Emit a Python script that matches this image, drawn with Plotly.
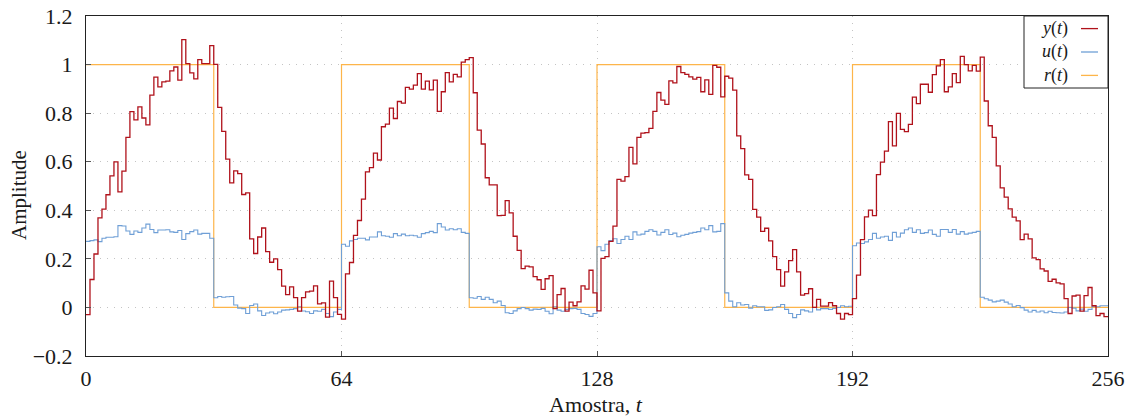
import plotly.graph_objects as go

# ---- data ----
y_vals = [
    -0.03, 0.115, 0.22, 0.369, 0.405, 0.464, 0.542, 0.599, 0.476, 0.561,
    0.70, 0.806, 0.772, 0.826, 0.78, 0.752, 0.874, 0.948, 0.908, 0.929,
    0.932, 0.974, 0.99, 0.936, 1.103, 1.004, 0.966, 0.941, 1.02, 1.004,
    1.004, 1.078,
    1.001, 0.824, 0.725, 0.611, 0.513, 0.562, 0.551, 0.465, 0.472, 0.282,
    0.222, 0.29, 0.327, 0.23, 0.186, 0.2, 0.156, 0.088, 0.053, 0.085,
    0.04, -0.015, 0.04, 0.064, 0.067, 0.089, 0.015, 0.019, -0.04, 0.108,
    0.04, -0.029,
    -0.048, 0.138, 0.185, 0.297, 0.358, 0.446, 0.558, 0.576, 0.635, 0.607,
    0.744, 0.755, 0.821, 0.778, 0.848, 0.841, 0.906, 0.899, 0.915, 0.963,
    0.899, 0.932, 0.896, 0.936, 0.807, 0.888, 0.967, 0.929, 0.96, 0.949,
    1.01, 1.02,
    1.029, 0.884, 0.73, 0.673, 0.534, 0.505, 0.505, 0.378, 0.379, 0.44,
    0.389, 0.293, 0.235, 0.16, 0.17, 0.167, 0.127, 0.114, 0.074, 0.118,
    0.131, -0.005, 0.053, 0.078, -0.015, 0.022, 0.007, 0.023, 0.089, 0.075,
    0.153, 0.06,
    -0.014, 0.202, 0.209, 0.272, 0.335, 0.527, 0.52, 0.539, 0.659, 0.591,
    0.70, 0.718, 0.72, 0.737, 0.807, 0.885, 0.854, 0.836, 0.933, 0.925,
    0.992, 0.967, 0.96, 0.949, 0.94, 0.947, 0.888, 0.937, 0.877, 0.997,
    0.989, 0.867,
    0.952, 0.944, 0.895, 0.706, 0.654, 0.546, 0.527, 0.404, 0.372, 0.313,
    0.326, 0.274, 0.209, 0.156, 0.088, 0.146, 0.193, 0.238, 0.146, 0.051,
    0.057, 0.077, 0.0, 0.033, 0.005, 0.005, 0.02, 0.007, -0.025, -0.048,
    -0.025, -0.03,
    0.036, 0.133, 0.279, 0.373, 0.401, 0.378, 0.547, 0.598, 0.644, 0.765,
    0.665, 0.799, 0.733, 0.724, 0.754, 0.866, 0.839, 0.919, 0.919, 0.886,
    0.959, 0.995, 1.02, 0.888, 0.908, 0.963, 0.926, 1.034, 1.0, 0.974,
    0.997, 0.973,
    1.031, 0.85, 0.748, 0.70, 0.583, 0.492, 0.454, 0.406, 0.372, 0.356,
    0.279, 0.302, 0.282, 0.204, 0.197, 0.159, 0.15, 0.107, 0.116, 0.101,
    0.097, 0.036, -0.025, 0.047, 0.051, -0.015, 0.049, 0.082, 0.007, -0.034,
    -0.025, -0.038,
]

u_vals = [
    0.272, 0.275, 0.278, 0.271, 0.285, 0.289, 0.289, 0.291, 0.337, 0.335,
    0.315, 0.301, 0.315, 0.309, 0.327, 0.343, 0.321, 0.308, 0.319, 0.319,
    0.32, 0.311, 0.309, 0.317, 0.28, 0.304, 0.312, 0.319, 0.302, 0.305,
    0.305, 0.285,
    0.04, 0.045, 0.042, 0.044, 0.045, 0.01, -0.003, -0.005, -0.025, 0.008,
    0.014, -0.014, -0.033, -0.023, -0.019, -0.026, -0.019, -0.011, -0.01, -0.008,
    -0.005, 0.003, -0.015, -0.018, -0.025, -0.014, -0.016, -0.008, -0.025, -0.038,
    -0.019, -0.008,
    0.26, 0.252, 0.274, 0.28, 0.285, 0.285, 0.278, 0.29, 0.29, 0.311,
    0.295, 0.293, 0.289, 0.304, 0.295, 0.302, 0.295, 0.297, 0.295, 0.289,
    0.304, 0.308, 0.313, 0.308, 0.345, 0.331, 0.319, 0.324, 0.32, 0.324,
    0.309, 0.305,
    0.04, 0.038, 0.045, 0.033, 0.042, 0.033, 0.019, 0.026, 0.008, -0.022,
    -0.025, -0.014, -0.005, 0.0, -0.005, -0.011, -0.007, -0.008, -0.004, -0.016,
    -0.026, 0.003, -0.011, -0.016, -0.008, -0.005, -0.004, -0.008, -0.025, -0.029,
    -0.037, -0.025,
    0.25, 0.234, 0.26, 0.275, 0.283, 0.263, 0.28, 0.293, 0.28, 0.311,
    0.298, 0.302, 0.313, 0.32, 0.313, 0.298, 0.309, 0.32, 0.30, 0.306,
    0.291, 0.297, 0.301, 0.306, 0.309, 0.312, 0.327, 0.32, 0.337, 0.311,
    0.313, 0.345,
    0.06, 0.026, 0.003, 0.019, 0.01, 0.012, -0.003, 0.007, 0.003, 0.003,
    -0.012, -0.01, 0.0, 0.003, 0.012, -0.008, -0.025, -0.042, -0.029, -0.01,
    -0.014, -0.019, 0.0, -0.01, -0.005, -0.005, -0.008, -0.004, 0.0, 0.007,
    0.003, 0.005,
    0.254, 0.265, 0.263, 0.27, 0.28, 0.305, 0.285, 0.29, 0.293, 0.276,
    0.309, 0.29, 0.306, 0.32, 0.327, 0.309, 0.32, 0.305, 0.308, 0.319,
    0.301, 0.293, 0.321, 0.321, 0.309, 0.321, 0.302, 0.312, 0.302, 0.306,
    0.309, 0.313,
    0.042, 0.036, 0.03, 0.023, 0.026, 0.03, 0.022, 0.014, 0.003, 0.008,
    -0.001, -0.011, -0.019, -0.012, -0.019, -0.015, -0.022, -0.016, -0.021, -0.022,
    -0.023, -0.019, 0.0, -0.003, -0.014, -0.007, -0.016, -0.008, 0.005, 0.003,
    0.007, 0.007,
]

# reference: breakpoints of the square wave
r_t = [0, 32, 64, 96, 128, 160, 192, 224, 256]
r_vals = [1, 0, 1, 0, 1, 0, 1, 0, 0]

x_ticks = [0, 64, 128, 192, 256]
y_ticks = [-0.2, 0, 0.2, 0.4, 0.6, 0.8, 1.0, 1.2]
y_tick_text = ["\u22120.2", "0", "0.2", "0.4", "0.6", "0.8", "1", "1.2"]

RED = "#b0121b"
BLUE = "#6f9fd6"
ORANGE = "#fdb54a"
FONT = "Liberation Serif"
TXT = "#1a1a1a"

t = list(range(len(y_vals))) + [len(y_vals)]
y_plot = y_vals + [y_vals[-1]]
u_plot = u_vals + [u_vals[-1]]

fig = go.Figure()
fig.add_trace(go.Scatter(x=r_t, y=r_vals, mode="lines", line=dict(color=ORANGE, width=1.2, shape="hv"),
                         name="r(t)", showlegend=False))
fig.add_trace(go.Scatter(x=t, y=u_plot, mode="lines", line=dict(color=BLUE, width=1.1, shape="hv"),
                         name="u(t)", showlegend=False))
fig.add_trace(go.Scatter(x=t, y=y_plot, mode="lines", line=dict(color=RED, width=1.3, shape="hv"),
                         name="y(t)", showlegend=False))

# plot area in pixels: x 86..1108, y 16..356
L, R, T, B = 86, 1108, 16, 356
W, H = R - L, B - T
def px(x):
    return (x - L) / W
def py(y):
    return (B - y) / H

# custom legend (text left, line sample right), one multi-line text block
LEG_SIZE = 18
LEG_MID = 52
line_h = 1.3 * LEG_SIZE
fig.add_shape(type="rect", xref="paper", yref="paper", x0=px(1024), x1=px(1108), y0=py(88), y1=py(16),
              line=dict(color="#222", width=1), fillcolor="white", layer="above")
fig.add_annotation(text="<i>y</i>(<i>t</i>)<br><i>u</i>(<i>t</i>)<br><i>r</i>(<i>t</i>)",
                   xref="paper", yref="paper", x=px(1070), y=py(LEG_MID), xanchor="right",
                   yanchor="middle", align="right", showarrow=False,
                   font=dict(family=FONT, size=LEG_SIZE, color=TXT))
for k, col in enumerate([RED, BLUE, ORANGE]):
    yy = LEG_MID + (k - 1) * line_h
    fig.add_shape(type="line", xref="paper", yref="paper", x0=px(1081), x1=px(1098), y0=py(yy), y1=py(yy),
                  line=dict(color=col, width=1.3), layer="above")

# axis titles
fig.add_annotation(text="Amostra, <i>t</i>", xref="paper", yref="paper", x=px(596), y=py(404),
                   xanchor="center", yanchor="middle", showarrow=False,
                   font=dict(family=FONT, size=22, color=TXT))
fig.add_annotation(text="Amplitude", xref="paper", yref="paper", x=px(19), y=py(195),
                   xanchor="center", yanchor="middle", textangle=-90, showarrow=False,
                   font=dict(family=FONT, size=21, color=TXT))

fig.update_layout(
    width=1130, height=418,
    margin=dict(l=L, r=1130 - R, t=T, b=418 - B),
    paper_bgcolor="white", plot_bgcolor="white",
    font=dict(family=FONT, size=22, color=TXT),
    showlegend=False,
)
GRID = dict(showgrid=True, gridcolor="#c4c4c4", griddash="1px,6px", gridwidth=1,
            showline=True, linecolor="#222", linewidth=1, mirror=True,
            ticks="inside", ticklen=5, tickcolor="#555", tickwidth=1,
            zeroline=False, automargin=False)
fig.update_xaxes(range=[0, 256], tickvals=x_ticks, ticktext=[str(v) for v in x_ticks],
                 ticklabelstandoff=3, **GRID)
fig.update_yaxes(range=[-0.2, 1.2], tickvals=y_ticks, ticktext=y_tick_text,
                 ticklabelstandoff=8, **GRID)

fig.write_html("out.html")
